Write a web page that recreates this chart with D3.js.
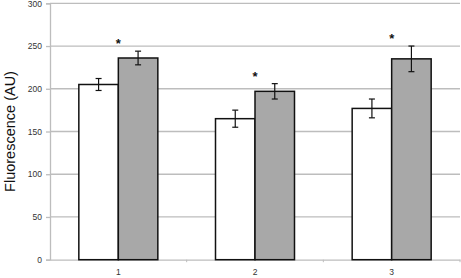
<!DOCTYPE html>
<html>
<head>
<meta charset="UTF-8">
<script src="https://d3js.org/d3.v7.min.js"></script>
<style>
    body { margin: 0; background: #fff; }
    svg { display: block; font-family: "Liberation Sans", Arial, sans-serif; }
</style>
</head>
<body>
<svg id="chart" width="461" height="278"></svg>
<script>
    // data
    const groups = ["1", "2", "3"];
    const controlValues = [205, 165, 177];
    const controlErrors = [7, 10, 11];
    const treatedValues = [236, 197, 235];
    const treatedErrors = [8, 9, 15];
    const significant = [true, true, true];
    const yTicks = [0, 50, 100, 150, 200, 250, 300];

    const svg = d3.select("#chart");
    const plotLeft = 50, plotRight = 460, plotTop = 3.3, plotBottom = 259.7;

    const x = d3.scaleBand().domain(groups).range([plotLeft, plotRight]).paddingInner(0).paddingOuter(0);
    const sub = d3.scaleBand().domain(["c", "t"]).range([0, x.bandwidth()]).paddingInner(0).paddingOuter(0.73);
    const y = d3.scaleLinear().domain([0, 300]).range([plotBottom, plotTop]);

    // gridlines
    svg.append("g").selectAll("line").data(yTicks.filter(d => d > 0)).enter().append("line")
        .attr("x1", plotLeft).attr("x2", plotRight)
        .attr("y1", d => y(d)).attr("y2", d => y(d))
        .attr("stroke", "#bdbdbd").attr("stroke-width", 1.3);

    // y axis
    const yAxis = svg.append("g").attr("transform", `translate(${plotLeft},0)`)
        .call(d3.axisLeft(y).tickValues(yTicks).tickSize(4).tickPadding(4));
    yAxis.select(".domain").attr("stroke", "#bdbdbd").attr("stroke-width", 1.3);
    yAxis.selectAll(".tick line").attr("stroke", "#bdbdbd").attr("stroke-width", 1.3);
    yAxis.selectAll("text").attr("fill", "#333").style("font-size", "8.5px");

    // x axis
    const xAxis = svg.append("g").attr("transform", `translate(0,${plotBottom})`)
        .call(d3.axisBottom(x).tickSize(0).tickPadding(9));
    xAxis.select(".domain").attr("stroke", "#bdbdbd").attr("stroke-width", 1.3);
    xAxis.selectAll("text").attr("fill", "#333").style("font-size", "8.5px");
    // small separators between categories
    svg.append("g").selectAll("line").data(groups).enter().append("line")
        .attr("x1", d => x(d) + x.bandwidth()).attr("x2", d => x(d) + x.bandwidth())
        .attr("y1", plotBottom).attr("y2", plotBottom + 2.5)
        .attr("stroke", "#bdbdbd").attr("stroke-width", 1);

    // bars
    const rows = groups.map((g, i) => ({
        g, c: controlValues[i], ce: controlErrors[i], t: treatedValues[i], te: treatedErrors[i], sig: significant[i]
    }));

    const gGroup = svg.append("g").selectAll("g").data(rows).enter().append("g")
        .attr("transform", d => `translate(${x(d.g)},0)`);

    const series = [
        { key: "c", fill: "#ffffff", val: d => d.c, err: d => d.ce },
        { key: "t", fill: "#a8a8a8", val: d => d.t, err: d => d.te }
    ];

    series.forEach(s => {
        gGroup.append("rect")
            .attr("x", sub(s.key))
            .attr("width", sub.bandwidth())
            .attr("y", d => y(s.val(d)))
            .attr("height", d => y(0) - y(s.val(d)))
            .attr("fill", s.fill)
            .attr("stroke", "#111").attr("stroke-width", 1.5);

        const cx = sub(s.key) + sub.bandwidth() / 2;
        gGroup.append("line")
            .attr("x1", cx).attr("x2", cx)
            .attr("y1", d => y(s.val(d) + s.err(d))).attr("y2", d => y(s.val(d) - s.err(d)))
            .attr("stroke", "#111").attr("stroke-width", 1.2);
        [1, -1].forEach(sign => {
            gGroup.append("line")
                .attr("x1", cx - 3).attr("x2", cx + 3)
                .attr("y1", d => y(s.val(d) + sign * s.err(d))).attr("y2", d => y(s.val(d) + sign * s.err(d)))
                .attr("stroke", "#111").attr("stroke-width", 1.2);
        });
    });

    // significance stars
    gGroup.filter(d => d.sig).append("text")
        .attr("x", x.bandwidth() / 2)
        .attr("y", d => y(Math.max(d.c + d.ce, d.t + d.te)) - 3)
        .attr("text-anchor", "middle")
        .style("font-size", "13px").style("font-weight", "bold")
        .attr("fill", "#111")
        .text("*");

    // y title
    svg.append("text")
        .attr("transform", `translate(15,${(plotTop + plotBottom) / 2}) rotate(-90)`)
        .attr("text-anchor", "middle")
        .style("font-size", "14.5px")
        .attr("fill", "#111")
        .text("Fluorescence (AU)");
</script>
</body>
</html>
